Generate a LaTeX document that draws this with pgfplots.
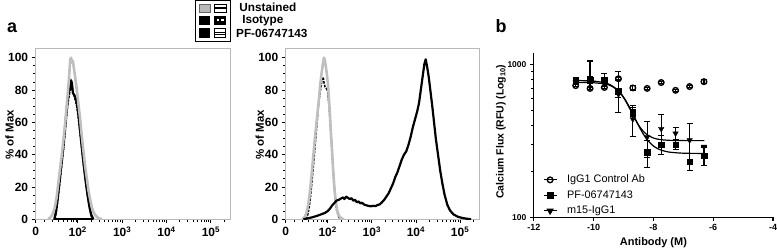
\documentclass[border=0pt]{standalone}
\usepackage{pgfplots}
\pgfplotsset{compat=1.18}
\usepackage{fontspec}
\setmainfont{Liberation Sans}
\begin{document}
\pgfplotsset{
  histax/.style={
    width=195pt,height=171pt,scale only axis,
    xmin=0,xmax=4.38,ymin=0,ymax=105.5,
    axis line style={gray!55,line width=0.9pt},
    tick style={black,line width=0.8pt},
    major tick length=4pt, minor tick length=2.5pt,
    tick align=outside, tick pos=left,
    xtick={0,0.95,1.95,2.95,3.95},
    xticklabels={0,10\textsuperscript{2},10\textsuperscript{3},10\textsuperscript{4},10\textsuperscript{5}},
    minor xtick={0.2,0.38,0.52,0.63,0.72,0.8,0.86,0.91,
      1.251,1.427,1.552,1.649,1.728,1.795,1.853,1.904,
      2.251,2.427,2.552,2.649,2.728,2.795,2.853,2.904,
      3.251,3.427,3.552,3.649,3.728,3.795,3.853,3.904,4.251},
    ytick={0,20,40,60,80,100}, minor y tick num=3,
    tick label style={font=\bfseries\fontsize{12}{13}\selectfont},
    /pgf/number format/assume math mode=true,
    ylabel={\% of Max},
    ylabel style={font=\bfseries\fontsize{11.5}{13}\selectfont, at={(axis description cs:-0.135,0.497)}, anchor=center},
  },
  gr/.style={color=gray!50,line width=2.6pt,line join=round},
  iso/.style={black,line width=1.5pt,dash pattern=on 2.5pt off 1.2pt},
  pf/.style={black,line width=2.2pt,line join=round},
}
\begin{tikzpicture}[x=1pt,y=1pt]
\useasboundingbox (0,0) rectangle (777,250);
% panel labels
\node[font=\bfseries\fontsize{18}{20}\selectfont,anchor=base] at (9.5,217) {a};
\node[font=\bfseries\fontsize{18}{20}\selectfont,anchor=base] at (500,217) {b};
% top legend
\draw[line width=1pt] (193,208.5) rectangle (229,249.5);
\draw[fill=gray!55,draw=gray!80!black,line width=0.6pt] (197,238) rectangle (208,246);
\draw[fill=white,line width=0.8pt] (212,238) rectangle (224,246);
\draw[line width=1.5pt] (212,242)--(224,242);
\fill[black] (197,225) rectangle (208,234);
\fill[black] (212,225) rectangle (224,234);
\fill[white] (214.5,228.5) rectangle (216.8,231);
\fill[white] (219.3,228.5) rectangle (221.6,231);
\fill[black] (197,212) rectangle (208,222);
\draw[fill=white,line width=1pt] (212,212.5) rectangle (224,221.5);
\draw[line width=1pt] (212,217.8)--(224,217.8);
\draw[line width=0.8pt] (212,215.3)--(224,215.3);
\node[font=\bfseries\fontsize{11.8}{13}\selectfont,anchor=base] at (266,238) {Unstained};
\node[font=\bfseries\fontsize{11.8}{13}\selectfont,anchor=base] at (261,226) {Isotype};
\node[font=\bfseries\fontsize{11.8}{13}\selectfont,anchor=base] at (270,212) {PF-06747143};

% ---------- panel a, left ----------
\begin{axis}[histax, at={(33pt,30pt)}, anchor=south west]
\addplot[iso] coordinates {(0.44,0) (0.48,7) (0.52,16) (0.56,26) (0.6,36) (0.64,46) (0.67,55) (0.7,64) (0.73,72) (0.76,77) (0.78,80) (0.8,85) (0.82,83) (0.84,79) (0.87,76) (0.9,73) (0.93,69) (0.97,61) (1.0,53) (1.04,43) (1.08,33) (1.12,24) (1.17,14) (1.22,6) (1.27,0)};
\addplot[pf] coordinates {(1.3,0) (0.42,0) (0.46,5) (0.5,14) (0.54,24) (0.58,34) (0.62,44) (0.65,53) (0.68,62) (0.71,71) (0.74,78) (0.76,82) (0.78,80) (0.8,86) (0.82,84) (0.84,78) (0.87,77) (0.9,75) (0.93,72) (0.96,66) (0.99,58) (1.02,50) (1.05,42) (1.09,32) (1.13,23) (1.17,15) (1.21,8) (1.25,3) (1.3,0)};
\addplot[gr] coordinates {(0.28,0) (0.33,1) (0.38,3) (0.43,7) (0.47,13) (0.51,22) (0.55,31) (0.59,40) (0.63,50) (0.66,58) (0.69,67) (0.72,77) (0.745,85) (0.765,93) (0.78,99) (0.80,100) (0.82,97) (0.84,98) (0.86,94) (0.88,90) (0.91,84) (0.94,77) (0.97,70) (1.00,63) (1.03,54) (1.07,44) (1.11,34) (1.15,26) (1.19,18) (1.23,12) (1.27,7) (1.31,4) (1.36,2) (1.42,0.5) (1.5,0)};
\end{axis}

% ---------- panel a, right ----------
\begin{axis}[histax, at={(284pt,30pt)}, anchor=south west, width=194pt]
\addplot[iso] coordinates {(0.47,0) (0.51,4) (0.55,11) (0.59,22) (0.63,34) (0.67,47) (0.71,60) (0.74,70) (0.77,77) (0.8,82) (0.82,86) (0.85,88) (0.87,84) (0.89,82) (0.92,81) (0.95,79) (0.98,70) (1.0,62) (1.03,50) (1.06,37) (1.09,24) (1.12,13) (1.15,6) (1.19,2) (1.23,0)};
\addplot[gr] coordinates {(0.38,0) (0.43,1.5) (0.47,4) (0.51,9) (0.54,15) (0.57,23) (0.6,32) (0.63,41) (0.66,50) (0.69,58) (0.72,66) (0.75,74) (0.78,83) (0.81,90) (0.84,96) (0.865,100) (0.88,99) (0.9,96) (0.93,90) (0.955,84) (0.98,74) (1.0,65) (1.02,55) (1.045,44) (1.07,32) (1.09,24) (1.11,17) (1.14,10) (1.17,5) (1.21,2) (1.26,0.5) (1.32,0)};
\addplot[pf] coordinates {(0.40,0) (0.5,0.5) (0.6,1.2) (0.7,2) (0.8,3) (0.88,3.8) (0.95,5) (1.0,6.5) (1.05,8.5) (1.1,10) (1.15,11.5) (1.2,12) (1.25,12.8) (1.3,13.5) (1.33,12.5) (1.37,14) (1.41,13.2) (1.45,12.5) (1.49,13) (1.53,11.5) (1.57,12) (1.61,10.5) (1.65,11) (1.69,9.8) (1.73,10.2) (1.78,9) (1.83,8.6) (1.88,8.2) (1.93,8) (1.98,8.3) (2.03,8.1) (2.08,8.8) (2.13,9.2) (2.18,10.5) (2.23,12) (2.28,14) (2.33,16) (2.38,19) (2.43,22) (2.48,26) (2.53,29) (2.58,33) (2.63,37) (2.68,40) (2.73,42) (2.78,46) (2.83,51) (2.88,57) (2.93,62) (2.98,67) (3.02,72) (3.06,80) (3.1,88) (3.14,96) (3.17,99) (3.2,95) (3.24,88) (3.28,79) (3.32,70) (3.36,60) (3.4,50) (3.45,40) (3.5,30) (3.55,22) (3.6,15) (3.66,9) (3.72,5.5) (3.8,3) (3.9,1.5) (4.0,0.8) (4.1,0.3) (4.2,0)};
\end{axis}

% ---------- panel b ----------
\begin{axis}[at={(533pt,32pt)}, anchor=south west,
  width=240pt, height=165.1pt, scale only axis,
  xmin=-12, xmax=-4, ymode=log, ymin=100, ymax=1200,
  axis x line*=bottom, axis y line*=left,
  axis line style={black,line width=1.2pt,-},
  tick style={black,line width=1.1pt},
  major tick length=4pt, minor tick length=2.5pt, tick align=outside,
  xtick={-12,-10,-8,-6,-4}, xticklabels={-12,-10,-8,-6,-4},
  ytick={100,1000}, yticklabels={100,1000},
  minor ytick={200,300,400,500,600,700,800,900},
  x tick label style={font=\bfseries\fontsize{9}{10}\selectfont},
  y tick label style={font=\bfseries\fontsize{8.5}{10}\selectfont},
  xlabel={Antibody (M)},
  xlabel style={font=\bfseries\fontsize{11}{12}\selectfont, at={(axis description cs:0.5,-0.152)}, anchor=center},
  ylabel={Calcium Flux (RFU) (Log\textsubscript{10})},
  ylabel style={font=\bfseries\fontsize{10.5}{12}\selectfont, at={(axis description cs:-0.1375,0.52)}, anchor=center},
  legend image code/.code={\draw[mark repeat=2,mark phase=2,#1] plot coordinates {(0pt,0pt) (6.5pt,0pt) (13pt,0pt)};},
  legend style={draw=none, fill=none, at={(axis description cs:0.0375,0.26)}, anchor=north west, inner sep=0pt, row sep=5pt,
     nodes={inner sep=0pt, text height=8pt, text depth=2.5pt}, font=\fontsize{10.9}{12}\selectfont,
     /tikz/every odd column/.append style={column sep=10pt}},
  legend cell align=left,
  error bars/error bar style={line width=1.2pt,black},
  error bars/error mark options={rotate=90,mark size=3pt,line width=1.2pt,black},
]
% legend images
\addlegendimage{black,line width=1.2pt,mark=o,mark size=2.8pt,mark options={line width=1.4pt,fill=white,solid}}
\addlegendentry{IgG1 Control Ab}
\addlegendimage{black,line width=1.2pt,mark=square*,mark size=2.8pt}
\addlegendentry{PF-06747143}
\addlegendimage{black,line width=1.2pt,mark=triangle*,mark size=3.2pt,mark options={rotate=180}}
\addlegendentry{m15-IgG1}
% control
\addplot[forget plot, only marks, black, mark=o, mark size=2.8pt, mark options={line width=1.4pt,fill=white},
  error bars/.cd, y dir=both, y explicit] coordinates {
  (-10.6,730) +- (0,10) (-10.12,700) +- (0,10) (-9.64,710) +- (0,10) (-9.17,810) +- (0,20)
  (-8.69,705) +- (0,22) (-8.21,700) +- (0,10) (-7.74,765) +- (0,12) (-7.26,680) +- (0,10)
  (-6.79,720) +- (0,12) (-6.31,775) +- (0,25)};
% m15
\addplot[forget plot, only marks, black, mark=triangle*, mark size=3.2pt, mark options={rotate=180},
  error bars/.cd, y dir=both, y explicit] coordinates {
  (-10.6,770) +- (0,20) (-10.12,790) += (0,270) -= (0,100) (-9.64,750) +- (0,30) (-9.17,640) +- (0,155)
  (-8.69,440) +- (0,100) (-8.21,335) +- (0,89) (-7.74,380) +- (0,92) (-7.26,355) +- (0,32)
  (-6.79,320) +- (0,91) (-6.31,290) +- (0,5)};
% PF
\addplot[forget plot, only marks, black, mark=square*, mark size=2.8pt,
  error bars/.cd, y dir=both, y explicit] coordinates {
  (-10.6,800) +- (0,20) (-10.12,800) +- (0,40) (-9.64,790) +- (0,90) (-9.17,670) += (0,230) -= (0,60)
  (-8.69,490) +- (0,34) (-8.21,266) +- (0,53) (-7.74,300) +- (0,42) (-7.26,300) +- (0,22)
  (-6.79,232) +- (0,30) (-6.31,254) +- (0,35)};
% fitted curves
\addplot[forget plot, black, line width=1.2pt, smooth] coordinates {
  (-10.6,766) (-10,762.2) (-9.6,746.8) (-9.4,724.5) (-9.2,681) (-9.1,648.6) (-9.0,609.5) (-8.9,565.1)
  (-8.8,518.9) (-8.7,474.5) (-8.6,435.3) (-8.5,403.1) (-8.4,378.1) (-8.3,359.6) (-8.2,346.4)
  (-8.0,330.8) (-7.8,323.7) (-7.5,319.7) (-7.0,318.2) (-6.3,318)};
\addplot[forget plot, black, line width=1.2pt, smooth] coordinates {
  (-10.6,789) (-10,781.8) (-9.6,758.7) (-9.4,731) (-9.2,684) (-9.1,651.7) (-9.0,613.8) (-8.9,571.1)
  (-8.8,526) (-8.7,480.8) (-8.6,438.3) (-8.5,400.3) (-8.4,368) (-8.3,341.7) (-8.2,321)
  (-8.0,293.3) (-7.8,278.2) (-7.5,267.9) (-7.0,263) (-6.3,262.1)};
\end{axis}
\end{tikzpicture}
\end{document}
